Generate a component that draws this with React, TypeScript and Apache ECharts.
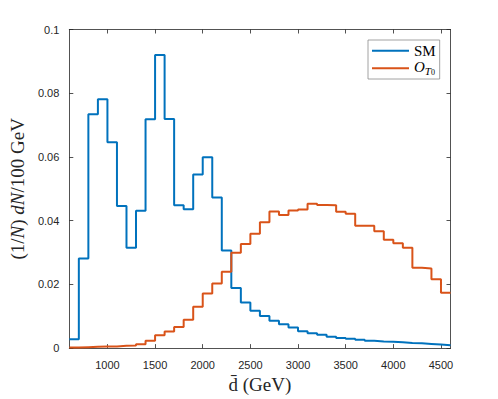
import React, { useEffect, useRef } from "react";
import * as echarts from "echarts";

// Bin edges (GeV), 100 GeV bins
const binEdges = [
  600, 700, 800, 900, 1000, 1100, 1200, 1300, 1400, 1500,
  1600, 1700, 1800, 1900, 2000, 2100, 2200, 2300, 2400, 2500,
  2600, 2700, 2800, 2900, 3000, 3100, 3200, 3300, 3400, 3500,
  3600, 3700, 3800, 3900, 4000, 4100, 4200, 4300, 4400, 4500, 4600,
];

const smValues = [
  0.0028, 0.0281, 0.0734, 0.0781, 0.0646, 0.0446, 0.0315, 0.0431, 0.0718, 0.092,
  0.0719, 0.0448, 0.0436, 0.0545, 0.0599, 0.0473, 0.0306, 0.0189, 0.0143, 0.0117,
  0.0101, 0.0086, 0.0075, 0.0065, 0.0053, 0.0047, 0.0042, 0.0036, 0.0032, 0.0029,
  0.0026, 0.0023, 0.0021, 0.002, 0.0018, 0.0016, 0.0015, 0.0013, 0.0011, 0.0009,
];

const ot0Values = [
  0.0002, 0.0003, 0.0004, 0.0005, 0.0005, 0.0007, 0.0008, 0.0012, 0.0023, 0.004,
  0.0052, 0.0066, 0.0089, 0.013, 0.0171, 0.0203, 0.024, 0.0299, 0.0327, 0.0359,
  0.0395, 0.0429, 0.0418, 0.0432, 0.0435, 0.0453, 0.0449, 0.0448, 0.0428, 0.0422,
  0.0384, 0.0384, 0.0367, 0.034, 0.0329, 0.0315, 0.0252, 0.025, 0.0216, 0.0174,
];

const xTickValues = [1000, 1500, 2000, 2500, 3000, 3500, 4000, 4500];
const seriesNames = ["SM", "O_T0"];

const AXIS_COLOR = "#262626";
const SANS = "'Liberation Sans', Arial, Helvetica, sans-serif";
const SERIF = "'Liberation Serif', 'Times New Roman', serif";

function toSteps(values: number[]) {
  const pts: [number, number][] = values.map((v, i) => [binEdges[i], v]);
  pts.push([binEdges[values.length], values[values.length - 1]]);
  return pts;
}

export default function App() {
  const ref = useRef<HTMLDivElement>(null);

  useEffect(() => {
    if (!ref.current) return;
    const chart = echarts.init(ref.current, null, { renderer: "svg" });

    const axisLine = { show: true, onZero: false, lineStyle: { color: AXIS_COLOR, width: 0.8 } };
    const tickStyle = { color: AXIS_COLOR, width: 0.8 };

    const option: any = {
      animation: false,
      backgroundColor: "#ffffff",
      grid: { left: 64.5, right: 47.5, top: 29.5, bottom: 49, containLabel: false },
      xAxis: [
        {
          type: "value",
          position: "bottom",
          min: 600,
          max: 4600,
          axisLine,
          axisTick: { show: true, inside: true, length: 4, customValues: xTickValues, lineStyle: tickStyle },
          axisLabel: {
            customValues: xTickValues,
            formatter: (v: number) => String(v),
            margin: 11,
            fontFamily: SANS,
            fontSize: 11,
            color: AXIS_COLOR,
          },
          splitLine: { show: false },
          name: "d\u0304 (GeV)",
          nameLocation: "middle",
          nameGap: 19,
          nameTextStyle: { fontFamily: SERIF, fontSize: 19, color: AXIS_COLOR },
        },
        {
          type: "value",
          position: "top",
          min: 600,
          max: 4600,
          axisLine,
          axisTick: { show: true, inside: true, length: 4, customValues: xTickValues, lineStyle: tickStyle },
          axisLabel: { show: false },
          splitLine: { show: false },
        },
      ],
      yAxis: [
        {
          type: "value",
          position: "left",
          min: 0,
          max: 0.1,
          interval: 0.02,
          axisLine,
          axisTick: { show: true, inside: true, length: 4, lineStyle: tickStyle },
          axisLabel: { margin: 10, fontFamily: SANS, fontSize: 11, color: AXIS_COLOR },
          splitLine: { show: false },
          name: "{a|(1/}{b|N}{a|) }{b|dN}{a|/100 GeV}",
          nameLocation: "middle",
          nameGap: 37,
          nameTextStyle: {
            fontFamily: SERIF,
            fontSize: 19,
            color: AXIS_COLOR,
            rich: {
              a: { fontFamily: SERIF, fontSize: 19, color: AXIS_COLOR },
              b: { fontFamily: SERIF, fontSize: 19, fontStyle: "italic", color: AXIS_COLOR },
            },
          },
        },
        {
          type: "value",
          position: "right",
          min: 0,
          max: 0.1,
          interval: 0.02,
          axisLine,
          axisTick: { show: true, inside: true, length: 4, lineStyle: tickStyle },
          axisLabel: { show: false },
          splitLine: { show: false },
        },
      ],
      legend: {
        orient: "vertical",
        left: 368,
        top: 40,
        padding: [2.2, 4, 2.2, 4],
        itemGap: 0.6,
        itemWidth: 37,
        itemHeight: 2,
        icon: "rect",
        backgroundColor: "#ffffff",
        borderColor: "#8a8a8a",
        borderWidth: 0.8,
        data: seriesNames,
        formatter: (name: string) => (name === "SM" ? "{s|SM}" : "{o|O}{t|T}{z|0}"),
        textStyle: {
          fontFamily: SERIF,
          fontSize: 15,
          lineHeight: 17,
          color: "#000",
          rich: {
            s: { fontFamily: SERIF, fontSize: 15, lineHeight: 17, color: "#000" },
            o: { fontFamily: SERIF, fontSize: 15, lineHeight: 17, fontStyle: "italic", color: "#000", verticalAlign: "top" },
            t: { fontFamily: SERIF, fontSize: 11, lineHeight: 11, fontStyle: "italic", color: "#000", padding: [5.5, 0, 0, 0], verticalAlign: "top" },
            z: { fontFamily: SERIF, fontSize: 8, lineHeight: 8, color: "#000", padding: [9, 0, 0, 0], verticalAlign: "top" },
          },
        },
      },
      series: [
        {
          name: "SM",
          type: "line",
          step: "end",
          symbol: "none",
          xAxisIndex: 0,
          yAxisIndex: 0,
          data: toSteps(smValues),
          lineStyle: { color: "#0072BD", width: 2 },
          itemStyle: { color: "#0072BD" },
        },
        {
          name: "O_T0",
          type: "line",
          step: "end",
          symbol: "none",
          xAxisIndex: 0,
          yAxisIndex: 0,
          data: toSteps(ot0Values),
          lineStyle: { color: "#D95319", width: 2 },
          itemStyle: { color: "#D95319" },
        },
      ],
    };

    chart.setOption(option);
    return () => chart.dispose();
  }, []);

  return (
    <div
      ref={ref}
      style={{ position: "fixed", left: 0, top: 0, width: 498, height: 399, background: "#fff" }}
    />
  );
}
